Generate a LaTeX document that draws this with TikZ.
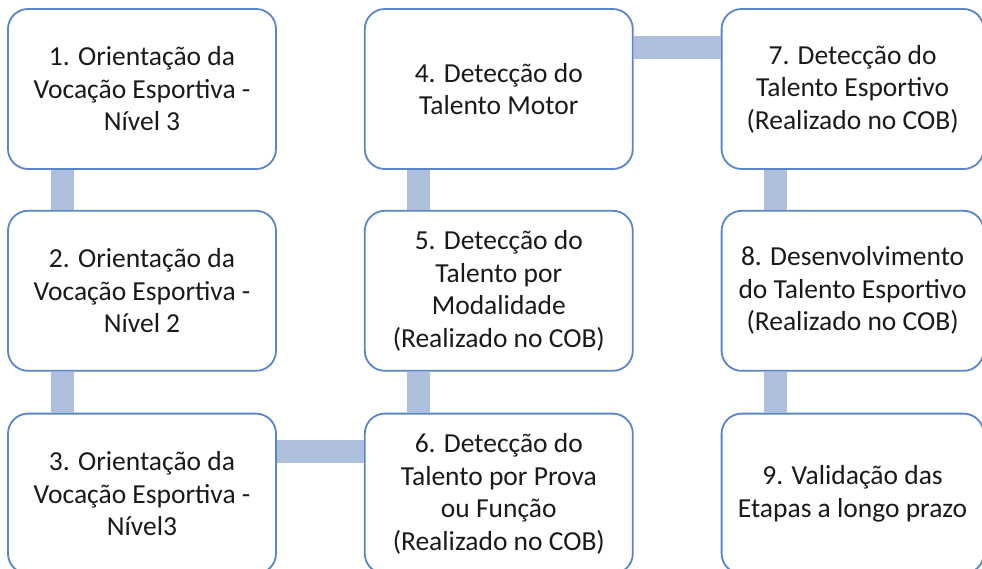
\documentclass[tikz,border=0pt]{standalone}
\usepackage{fontspec}
\setmainfont{Carlito}
\usetikzlibrary{positioning}

\definecolor{boxline}{HTML}{5A86C6}
\definecolor{barfill}{HTML}{AEBFDE}
\definecolor{boxtext}{HTML}{1A1A1A}

\begin{document}
\begin{tikzpicture}[
  x=1pt, y=-1pt,
  stage/.style = {draw=boxline, line width=1.8pt, fill=white, rounded corners=20pt,
                  minimum height=160pt, minimum width=268pt, align=center,
                  text=boxtext, font=\fontsize{27.5}{32.5}\selectfont},
  bar/.style = {barfill, line width=23pt},
  node distance=40pt and 87pt
]

  \useasboundingbox (0,0) rectangle (982,568);

  % first column
  \node[stage] (b1) at (142,89) {1. Orientação da\\Vocação Esportiva -\\Nível 3};
  \node[stage, below=of b1] (b2) {2. Orientação da\\Vocação Esportiva -\\Nível 2};
  \node[stage, below=41pt of b2] (b3) {3. Orientação da\\Vocação Esportiva -\\Nível3};

  % second column
  \node[stage, right=of b1] (b4) {4. Detecção do\\Talento Motor};
  \node[stage, below=of b4] (b5) {5. Detecção do\\Talento por\\Modalidade\\(Realizado no COB)};
  \node[stage, below=41pt of b5] (b6) {6. Detecção do\\Talento por Prova\\ou Função\\(Realizado no COB)};

  % third column
  \node[stage, minimum width=262pt, right=of b4] (b7) {7. Detecção do\\Talento Esportivo\\(Realizado no COB)};
  \node[stage, minimum width=262pt, below=of b7] (b8) {8. Desenvolvimento\\do Talento Esportivo\\(Realizado no COB)};
  \node[stage, minimum width=262pt, below=41pt of b8] (b9) {9. Validação das\\Etapas a longo prazo};

  % connecting bars between the boxes
  \draw[bar] ([xshift=55pt]b1.south west) -- ([xshift=55pt]b2.north west);
  \draw[bar] ([xshift=55pt]b2.south west) -- ([xshift=55pt]b3.north west);
  \draw[bar] ([yshift=-39pt]b3.north east) -- ([yshift=-39pt]b6.north west);
  \draw[bar] ([xshift=55pt]b6.north west) -- ([xshift=55pt]b5.south west);
  \draw[bar] ([xshift=55pt]b5.north west) -- ([xshift=55pt]b4.south west);
  \draw[bar] ([yshift=-39pt]b4.north east) -- ([yshift=-39pt]b7.north west);
  \draw[bar] ([xshift=55pt]b7.south west) -- ([xshift=55pt]b8.north west);
  \draw[bar] ([xshift=55pt]b8.south west) -- ([xshift=55pt]b9.north west);

\end{tikzpicture}
\end{document}
